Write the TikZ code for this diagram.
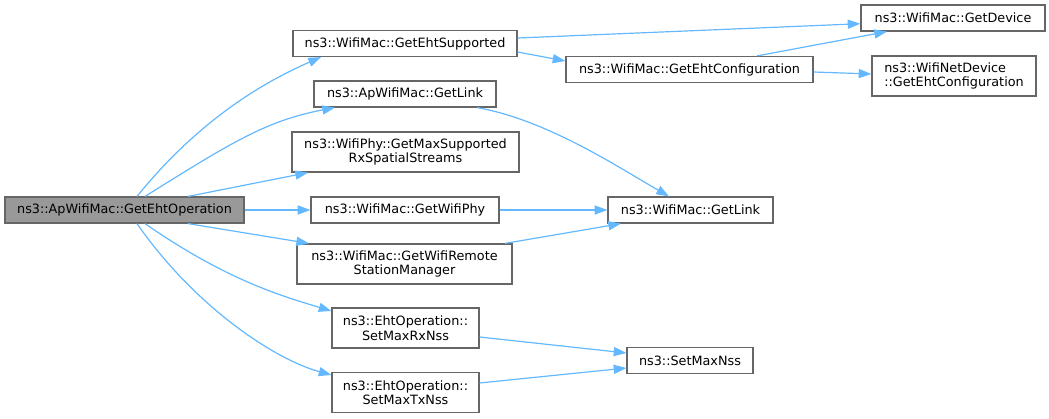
\documentclass[tikz,border=0pt]{standalone}
\usepackage{fontspec}
\setmainfont{DejaVu Sans}
\usetikzlibrary{arrows.meta, calc}

\definecolor{edgeblue}{HTML}{63B8FF}
\definecolor{boxgray}{HTML}{666666}
\definecolor{rootgray}{HTML}{999999}

\begin{document}
\begin{tikzpicture}[
    x=0.75pt, y=-0.75pt, % one unit is one pixel of the graph, y downwards
    >={Triangle[length=9.5pt, width=6.8pt]}, % filled graphviz style tips
    font=\fontsize{9.6pt}{10.9pt}\selectfont,
    box/.style={draw=boxgray, fill=white, line width=0.9pt, inner sep=0pt, align=center, minimum height=26*0.75pt}, % function box
    tall/.style={minimum height=40*0.75pt}, % two line box
    wd/.style={minimum width=#1*0.75pt},
    rootbox/.style={box, fill=rootgray}, % the function the graph is about
    call/.style={->, draw=edgeblue, line width=0.9pt} % call edge
]

    \useasboundingbox (0,0) rectangle (1049,418);

    % === Caller ===
    \node[rootbox, wd=239] (root) at (124.5,210) {ns3::ApWifiMac::GetEhtOperation};

    % === First column of callees ===
    \node[box, wd=224] (ehtsup) at (405,43.5) {ns3::WifiMac::GetEhtSupported};
    \node[box, wd=182] (aplink) at (405,94) {ns3::ApWifiMac::GetLink};
    \node[box, tall, wd=227] (maxss) at (405.5,152) {ns3::WifiPhy::GetMaxSupported\\RxSpatialStreams};
    \node[box, wd=188] (wifiphy) at (405,210) {ns3::WifiMac::GetWifiPhy};
    \node[box, tall, wd=215] (remote) at (404.5,264) {ns3::WifiMac::GetWifiRemote\\StationManager};
    \node[box, tall, wd=147] (setrx) at (405.5,328) {ns3::EhtOperation::\\SetMaxRxNss};
    \node[box, tall, wd=147] (settx) at (405.5,392.5) {ns3::EhtOperation::\\SetMaxTxNss};

    % === Second column ===
    \node[box, wd=247] (ehtconf) at (689.5,69.5) {ns3::WifiMac::GetEhtConfiguration};
    \node[box, wd=165] (maclink) at (690.5,210) {ns3::WifiMac::GetLink};
    \node[box, wd=126] (setnss) at (690,360.5) {ns3::SetMaxNss};

    % === Third column ===
    \node[box, wd=184] (device) at (953,18) {ns3::WifiMac::GetDevice};
    \node[box, tall, wd=164, align=left] (netdev) at (954,76) {ns3::WifiNetDevice\\::GetEhtConfiguration};

    % === Calls from the caller ===
    \draw[call] ($(root.north)+(12.5,0)$) .. controls +(63,-78) and +(-55,24) .. ($(ehtsup.south)+(-84,0)$);
    \draw[call] ($(root.north)+(20.5,0)$) .. controls +(85,-53) and +(-69,13) .. ($(aplink.south)+(-70,0)$);
    \draw[call] ($(root.north)+(63.5,0)$) -- ($(maxss.south)+(-97.5,0)$);
    \draw[call] (root.east) -- (wifiphy.west);
    \draw[call] ($(root.south)+(63.5,0)$) -- ($(remote.north)+(-95.5,0)$);
    \draw[call] ($(root.south)+(20.5,0)$) .. controls +(82,57) and +(-48,-14.5) .. ($(setrx.west)+(0,-17)$);
    \draw[call] ($(root.south)+(12.5,0)$) .. controls +(57,82) and +(-58,-16) .. ($(settx.west)+(0,-17.5)$);

    % === Further calls ===
    \draw[call] ($(ehtsup.east)+(0,-5.5)$) -- ($(device.west)+(0,5.7)$);
    \draw[call] ($(ehtsup.east)+(0,8.5)$) -- ($(ehtconf.west)+(0,-8.5)$);
    \draw[call] ($(ehtconf.north)+(67.5,0)$) -- ($(device.south)+(-66,0)$);
    \draw[call] ($(ehtconf.east)+(0,2.5)$) -- ($(netdev.west)+(0,-2)$);
    \draw[call] ($(aplink.south)+(72,0)$) .. controls +(69,12) and +(-52,-30) .. ($(maclink.north)+(-21.5,0)$);
    \draw[call] (wifiphy.east) -- (maclink.west);
    \draw[call] ($(remote.north)+(100.5,0)$) -- ($(maclink.south)+(-69.5,0)$);
    \draw[call] ($(setrx.east)+(0,9)$) -- ($(setnss.west)+(0,-7.5)$);
    \draw[call] ($(settx.east)+(0,-9.5)$) -- ($(setnss.west)+(0,7.5)$);

\end{tikzpicture}
\end{document}
